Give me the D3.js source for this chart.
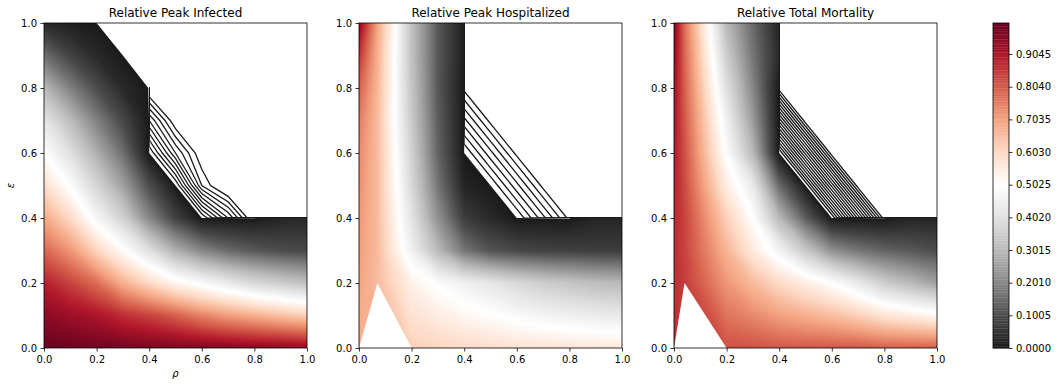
<!DOCTYPE html>
<meta charset="utf-8">
<style>
body { margin: 0; background: #fff; }
svg { display: block; font-family: "DejaVu Sans", sans-serif; }
.tick text { font-size: 10px; fill: #000; font-family: "DejaVu Sans", sans-serif; }
.tick line { stroke: #000; stroke-width: 0.8; }
.title { font-size: 12px; text-anchor: middle; fill: #000; }
.frame { fill: none; stroke: #000; stroke-width: 0.8; }
</style>
<body>
<script src="https://d3js.org/d3.v7.min.js"></script>
<script>

// ---- data (null = no value, left blank in the plot) ----
var titles = ["Relative Peak Infected", "Relative Peak Hospitalized", "Relative Total Mortality"];

// panel 1 grid
var rhoInf = [0, 0.1, 0.2, 0.3, 0.4, 0.5, 0.6, 0.7, 0.8, 0.9, 1.0];
var epsInf = [0, 0.1, 0.2, 0.3, 0.4, 0.5, 0.6, 0.7, 0.8, 0.9, 1.0];
// rows = eps (bottom to top), columns = rho
var zInf = [
  [0.995, 0.99, 0.985, 0.98, 0.975, 0.97, 0.965, 0.96, 0.955, 0.95, 0.94],
  [0.95, 0.93, 0.91, 0.87, 0.84, 0.80, 0.75, 0.71, 0.68, 0.65, 0.62],
  [0.89, 0.84, 0.78, 0.68, 0.60, 0.53, 0.48, 0.43, 0.38, 0.35, 0.32],
  [0.79, 0.72, 0.61, 0.51, 0.40, 0.28, 0.20, 0.15, 0.12, 0.10, 0.09],
  [0.69, 0.60, 0.47, 0.36, 0.20, 0.08, 0, -0.0005, -0.00105, 0.02, 0.03],
  [0.59, 0.49, 0.37, 0.25, 0.10, 0, -0.0008, -0.0011, null, null, null],
  [0.50, 0.40, 0.28, 0.16, 0, -0.0006, -0.001, null, null, null, null],
  [0.42, 0.31, 0.19, 0.09, -0.0005, -0.001, null, null, null, null, null],
  [0.30, 0.19, 0.10, 0.03, -0.00105, null, null, null, null, null, null],
  [0.16, 0.08, 0.03, 0, null, null, null, null, null, null, null],
  [0.03, 0.01, 0, null, null, null, null, null, null, null, null]
];
var hollowInf = [];

// panel 2 grid
var rhoHosp = [0, 0.07, 0.2, 0.3, 0.4, 0.5, 0.6, 0.7, 0.8, 0.9, 1.0];
var epsHosp = [0, 0.2, 0.3, 0.4, 0.5, 0.6, 0.7, 0.8, 0.9, 1.0];
var zHosp = [
  [0.68, 0.68, 0.62, 0.61, 0.60, 0.59, 0.58, 0.575, 0.57, 0.565, 0.56],
  [0.70, 0.66, 0.54, 0.49, 0.45, 0.42, 0.38, 0.35, 0.33, 0.31, 0.30],
  [0.71, 0.66, 0.45, 0.30, 0.17, 0.11, 0.09, 0.08, 0.075, 0.07, 0.07],
  [0.72, 0.66, 0.41, 0.22, 0.07, 0.03, 0, -0.0005, -0.001, 0.02, 0.02],
  [0.73, 0.66, 0.38, 0.17, 0.02, 0, -0.0005, -0.001, null, null, null],
  [0.74, 0.66, 0.36, 0.14, 0, -0.0005, -0.001, null, null, null, null],
  [0.76, 0.66, 0.34, 0.13, -0.0005, -0.001, null, null, null, null, null],
  [0.80, 0.67, 0.33, 0.12, -0.001, null, null, null, null, null, null],
  [0.86, 0.68, 0.32, 0.12, 0.01, null, null, null, null, null, null],
  [0.95, 0.70, 0.32, 0.12, 0.01, null, null, null, null, null, null]
];
// grid points [column, row] left blank
var hollowHosp = [[1, 0]];

// panel 3 grid
var rhoMort = [0, 0.04, 0.2, 0.3, 0.4, 0.5, 0.6, 0.7, 0.8, 0.9, 1.0];
var epsMort = [0, 0.2, 0.3, 0.4, 0.5, 0.6, 0.7, 0.8, 0.9, 1.0];
var zMort = [
  [0.87, 0.85, 0.82, 0.82, 0.81, 0.81, 0.81, 0.81, 0.80, 0.80, 0.80],
  [0.87, 0.85, 0.72, 0.66, 0.60, 0.55, 0.50, 0.43, 0.35, 0.30, 0.25],
  [0.87, 0.84, 0.67, 0.56, 0.46, 0.34, 0.22, 0.17, 0.14, 0.12, 0.10],
  [0.88, 0.84, 0.62, 0.50, 0.30, 0.13, 0, -0.0005, -0.001, 0.02, 0.02],
  [0.89, 0.83, 0.55, 0.43, 0.15, 0, -0.0005, -0.001, null, null, null],
  [0.90, 0.82, 0.49, 0.30, 0, -0.0005, -0.001, null, null, null, null],
  [0.91, 0.81, 0.45, 0.24, -0.0005, -0.001, null, null, null, null, null],
  [0.92, 0.80, 0.40, 0.20, -0.001, null, null, null, null, null, null],
  [0.94, 0.79, 0.35, 0.17, 0.03, null, null, null, null, null, null],
  [0.96, 0.78, 0.30, 0.15, 0.02, null, null, null, null, null, null]
];
var hollowMort = [[1, 0]];

// edge lines in the blank corner (count, spacing of the small negative levels)
var edgeCount = [9, 7, 18];
var edgeStep = [0.0001, 0.000136, 0.0000536];

var axisTicks = [0, 0.2, 0.4, 0.6, 0.8, 1.0];

// RdGy reversed
var rdgyR = ["#1a1a1a", "#4d4d4d", "#878787", "#bababa", "#e0e0e0", "#ffffff",
             "#fddbc7", "#f4a582", "#d6604d", "#b2182b", "#67001f"];

// ---- layout ----
var W = 1058, H = 389;
var plotTop = 23, plotBottom = 348;
var panelLeft = [44, 359, 674], panelW = 263;
var MASK = -1e6;

var levels = d3.range(200).map(function(i) { return i / 199; });
var cmap = d3.scaleLinear()
  .domain(d3.range(11).map(function(i) { return i / 10; }))
  .range(rdgyR);
function bandColor(k) { return cmap((levels[k] + levels[k + 1]) / 2); }

var svg = d3.select("body").append("svg")
  .attr("width", W).attr("height", H);
var defs = svg.append("defs");

var panels = [
  {rho: rhoInf, eps: epsInf, z: zInf, hollow: hollowInf},
  {rho: rhoHosp, eps: epsHosp, z: zHosp, hollow: hollowHosp},
  {rho: rhoMort, eps: epsMort, z: zMort, hollow: hollowMort}
];

var y = d3.scaleLinear().domain([0, 1]).range([plotBottom, plotTop]);

panels.forEach(function(p, pi) {
  var x0 = panelLeft[pi];
  var x = d3.scaleLinear().domain([0, 1]).range([x0, x0 + panelW]);
  var n = p.rho.length, m = p.eps.length;

  var values = [];
  p.z.forEach(function(row) {
    row.forEach(function(v) { values.push(v === null ? MASK : v); });
  });
  var holes = values.map(function() { return 0; });
  p.hollow.forEach(function(c) { holes[c[1] * n + c[0]] = 1; });

  // grid index -> data value (cell centres sit at i + 0.5)
  var ix = d3.scaleLinear().domain(p.rho.map(function(d, i) { return i + 0.5; })).range(p.rho);
  var iy = d3.scaleLinear().domain(p.eps.map(function(d, i) { return i + 0.5; })).range(p.eps);
  var path = d3.geoPath(d3.geoTransform({
    point: function(px, py) { this.stream.point(x(ix(px)), y(iy(py))); }
  }));

  defs.append("clipPath").attr("id", "clip" + pi)
    .append("rect").attr("x", x0).attr("y", plotTop)
    .attr("width", panelW).attr("height", plotBottom - plotTop);
  defs.append("clipPath").attr("id", "clipEdge" + pi)
    .append("rect").attr("x", x(0.4)).attr("y", y(1))
    .attr("width", x(1) - x(0.4)).attr("height", y(0.4) - y(1));

  var g = svg.append("g").attr("clip-path", "url(#clip" + pi + ")");
  var bands = d3.contours().size([n, m]).thresholds(levels.slice(0, -1))(values);
  g.append("g").selectAll("path").data(bands).join("path")
    .attr("d", path)
    .attr("fill", function(d, k) { return bandColor(k); });

  if (p.hollow.length) {
    var hole = d3.contours().size([n, m]).thresholds([1e-6])(holes);
    g.append("g").selectAll("path").data(hole).join("path")
      .attr("d", path)
      .attr("fill", "#fff");
  }

  var edgeLevels = d3.range(1, edgeCount[pi] + 1).map(function(k) { return -k * edgeStep[pi]; });
  var edges = d3.contours().size([n, m]).thresholds(edgeLevels)(values);
  svg.append("g").attr("clip-path", "url(#clipEdge" + pi + ")")
    .selectAll("path").data(edges).join("path")
    .attr("d", path)
    .attr("fill", "none")
    .attr("stroke", "#1a1a1a")
    .attr("stroke-width", 1.3);

  // axes
  var gx = svg.append("g").attr("transform", "translate(0," + plotBottom + ")")
    .call(d3.axisBottom(x).tickValues(axisTicks).tickFormat(d3.format(".1f"))
      .tickSize(3.5).tickPadding(4));
  gx.select(".domain").remove();
  var gy = svg.append("g").attr("transform", "translate(" + x0 + ",0)")
    .call(d3.axisLeft(y).tickValues(axisTicks).tickFormat(d3.format(".1f"))
      .tickSize(3.5).tickPadding(3.5));
  gy.select(".domain").remove();

  svg.append("rect").attr("class", "frame")
    .attr("x", x0).attr("y", plotTop).attr("width", panelW).attr("height", plotBottom - plotTop);

  svg.append("text").attr("class", "title")
    .attr("x", x0 + panelW / 2).attr("y", plotTop - 6)
    .text(titles[pi]);
});

// axis labels (first panel only)
svg.append("text")
  .attr("x", panelLeft[0] + panelW / 2).attr("y", 377)
  .attr("text-anchor", "middle")
  .style("font-size", "10px").style("font-style", "italic")
  .text("ρ");
svg.append("text")
  .attr("transform", "translate(14," + ((plotTop + plotBottom) / 2) + ") rotate(-90)")
  .attr("text-anchor", "middle")
  .style("font-size", "10px").style("font-style", "italic")
  .text("ε");

// ---- colorbar ----
var cbX = 993, cbW = 16;
var cy = d3.scaleLinear().domain([0, 1]).range([plotBottom, plotTop]);
svg.append("g").selectAll("rect")
  .data(d3.range(levels.length - 1)).join("rect")
  .attr("x", cbX).attr("width", cbW)
  .attr("y", function(k) { return cy(levels[k + 1]); })
  .attr("height", function(k) { return cy(levels[k]) - cy(levels[k + 1]) + 0.3; })
  .attr("fill", function(k) { return bandColor(k); });
svg.append("rect").attr("class", "frame")
  .attr("x", cbX).attr("y", plotTop).attr("width", cbW).attr("height", plotBottom - plotTop);
var cbTicks = levels.filter(function(d, i) { return i % 20 === 0; });
var gc = svg.append("g").attr("transform", "translate(" + (cbX + cbW) + ",0)")
  .call(d3.axisRight(cy).tickValues(cbTicks).tickFormat(d3.format(".4f"))
    .tickSize(3.5).tickPadding(3.5));
gc.select(".domain").remove();

</script>
</body>
